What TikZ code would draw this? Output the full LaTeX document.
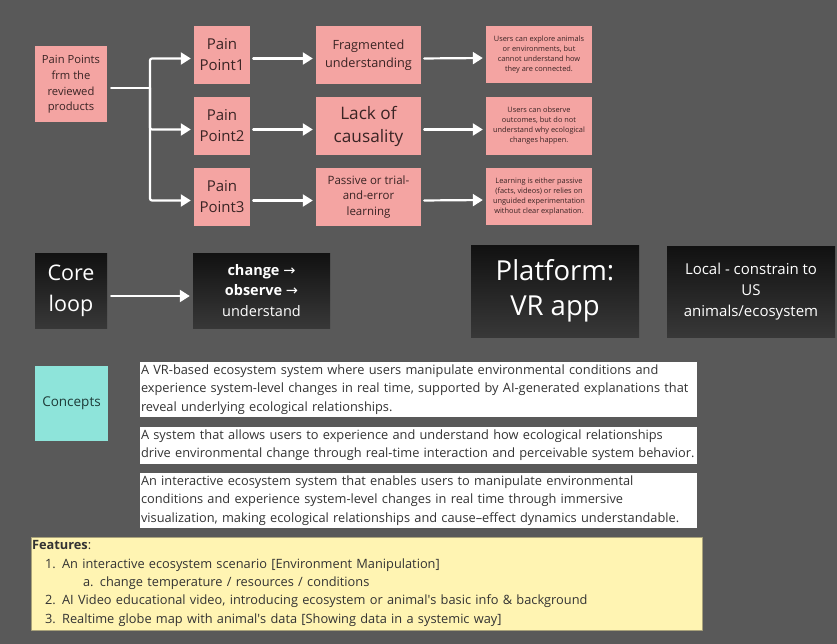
\documentclass[tikz,border=0pt]{standalone}
\usepackage{fontspec}
\setmainfont{Open Sans}
\newfontfamily\arrowfont{DejaVu Sans}
\usetikzlibrary{arrows.meta, positioning}

\definecolor{boardgray}{HTML}{595959}
\definecolor{painpink}{HTML}{F4A4A2}
\definecolor{painink}{HTML}{3A2424}
\definecolor{darktop}{HTML}{111111}
\definecolor{darkbottom}{HTML}{383838}
\definecolor{conceptteal}{HTML}{8EE4DA}
\definecolor{conceptink}{HTML}{1E3B38}
\definecolor{bodyink}{HTML}{333333}
\definecolor{noteyellow}{HTML}{FFF4B2}
\definecolor{noteedge}{HTML}{A9A27A}

\newcommand\nohyph{\hyphenpenalty=10000\relax}

\begin{document}
\begin{tikzpicture}[
  x=1pt, y=-1pt,
  line cap=round,
  line join=round,
  painbox/.style={fill=painpink, text=painink, align=center, inner sep=0pt},
  darkbox/.style={top color=darktop, bottom color=darkbottom, text=white,
    align=center, inner sep=0pt},
  conceptbox/.style={fill=white, text=bodyink, align=left, inner xsep=1pt,
    inner ysep=0pt, text width=555pt,
    font=\fontsize{12.8}{18.3}\selectfont\nohyph},
  flow/.style={-{Triangle[length=10pt, width=12pt]}, white, line width=2.2pt,
    shorten <=3pt, shorten >=3pt}
]
  % Board
  \useasboundingbox (0,0) rectangle (837,644);
  \fill[boardgray] (0,0) rectangle (837,644);

  % Pain points
  \node[painbox, minimum width=72pt, minimum height=76pt,
    font=\fontsize{11.2}{15.7}\selectfont] (src) at (71,84.5)
    {Pain Points\\frm the\\reviewed\\products};
  \foreach \i/\y in {1/55, 2/126, 3/197} {
    \node[painbox, minimum width=56pt, minimum height=58pt,
      font=\fontsize{15}{21}\selectfont] (pp\i) at (222,\y) {Pain\\Point\i};
  }
  \node[painbox, minimum width=105pt, minimum height=58pt,
    font=\fontsize{12.7}{18}\selectfont] (why1) at (368.5,55)
    {Fragmented\\understanding};
  \node[painbox, minimum width=105pt, minimum height=58pt,
    font=\fontsize{17.2}{23}\selectfont] (why2) at (368.5,126)
    {Lack of\\causality};
  \node[painbox, minimum width=105pt, minimum height=58pt,
    font=\fontsize{11.5}{15.7}\selectfont] (why3) at (368.5,197)
    {Passive or trial-\\and-error\\learning};

  % Observations
  \node[painbox, minimum width=106pt, minimum height=57pt,
    font=\fontsize{7.4}{10}\selectfont] (obs1) at (539,54.5)
    {Users can explore animals\\or environments, but\\cannot understand how\\they are connected.};
  \node[painbox, minimum width=106pt, minimum height=58pt,
    font=\fontsize{7.4}{10}\selectfont] (obs2) at (539,126)
    {Users can observe\\outcomes, but do not\\understand why ecological\\changes happen.};
  \node[painbox, minimum width=106pt, minimum height=57pt,
    font=\fontsize{7.4}{10}\selectfont] (obs3) at (539,196.5)
    {Learning is either passive\\(facts, videos) or relies on\\unguided experimentation\\without clear explanation.};

  % Branching arrows
  \coordinate (fork) at (150,88);
  \draw[white, line width=2.2pt, shorten <=4pt] ([yshift=-3.5pt]src.east) -- (fork);
  \foreach \i in {1,2,3} {
    \draw[flow, shorten <=0pt, rounded corners=2pt]
      (fork) |- ([yshift=-3.5pt]pp\i.west);
    \draw[flow] ([yshift=-3.5pt]pp\i.east) -- ([yshift=-3.5pt]why\i.west);
    \draw[flow] ([yshift=-3.5pt]why\i.east) -- ([yshift=-3.5pt]obs\i.west);
  }

  % Core loop
  \node[darkbox, minimum width=72pt, minimum height=75pt,
    font=\fontsize{21.5}{31}\selectfont] (core) at (71,290.5) {Core\\loop};
  \node[darkbox, minimum width=137pt, minimum height=75pt,
    font=\fontsize{14.5}{20.5}\selectfont] (cycle) at (261.5,290.5)
    {\textbf{change} {\arrowfont →}\\\textbf{observe} {\arrowfont →}\\understand};
  \draw[flow, shorten <=4pt] ([yshift=-5.5pt]core.east) -- ([yshift=-5.5pt]cycle.west);

  % Platform and scope
  \node[darkbox, minimum width=168pt, minimum height=92pt,
    font=\fontsize{27.5}{35}\selectfont] (platform) at (555,291)
    {Platform:\\VR app};
  \node[darkbox, minimum width=168pt, minimum height=91pt,
    font=\fontsize{15}{21}\selectfont] (scope) at (751,291.5)
    {Local - constrain to\\US\\animals/ecosystem};

  % Concepts
  \node[fill=conceptteal, text=conceptink, minimum width=73pt, minimum height=75pt,
    inner sep=0pt, font=\fontsize{13.5}{18}\selectfont] (concepts) at (71.5,403.5)
    {Concepts};
  \node[conceptbox, minimum height=55pt] (idea1) at (418.5,389.5)
    {A VR-based ecosystem system where users manipulate environmental conditions and\\
     experience system-level changes in real time, supported by AI-generated explanations that\\
     reveal underlying ecological relationships.};
  \node[conceptbox, minimum height=37pt] (idea2) at (418.5,445.5)
    {A system that allows users to experience and understand how ecological relationships\\
     drive environmental change through real-time interaction and perceivable system behavior.};
  \node[conceptbox, minimum height=55pt] (idea3) at (418.5,500.5)
    {An interactive ecosystem system that enables users to manipulate environmental\\
     conditions and experience system-level changes in real time through immersive\\
     visualization, making ecological relationships and cause–effect dynamics understandable.};

  % Features
  \node[fill=noteyellow, draw=noteedge, text=bodyink, minimum width=671pt,
    minimum height=93pt, text width=669pt, inner xsep=1pt, inner ysep=0pt,
    align=left, font=\fontsize{12.8}{18.4}\selectfont] (features) at (366.5,583.5)
    {\textbf{Features}:\\
     \hspace*{13pt}1. An interactive ecosystem scenario [Environment Manipulation]\\
     \hspace*{51pt}a. change temperature / resources / conditions\\
     \hspace*{13pt}2. AI Video educational video, introducing ecosystem or animal\textquotesingle s basic info \& background\\
     \hspace*{13pt}3. Realtime globe map with animal\textquotesingle s data [Showing data in a systemic way]};
\end{tikzpicture}
\end{document}
